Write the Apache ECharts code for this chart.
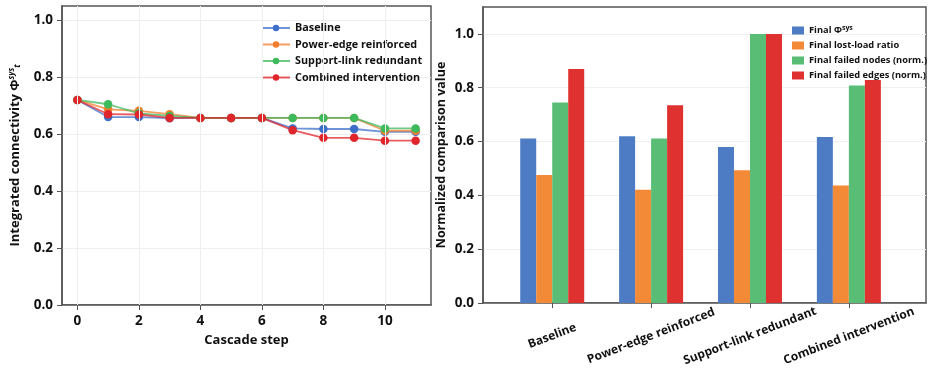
<!DOCTYPE html>
<html>
<head>
<meta charset="utf-8">
<script src="https://cdn.jsdelivr.net/npm/echarts@6/dist/echarts.min.js"></script>
<style>
  html, body { margin: 0; padding: 0; background: #fff; }
  #chart { width: 929px; height: 368px; }
</style>
</head>
<body>
<div id="chart"></div>
<script>
// cascade curves (left panel)
const steps = [0, 1, 2, 3, 4, 5, 6, 7, 8, 9, 10, 11]
const baseline = [0.720, 0.660, 0.660, 0.656, 0.657, 0.657, 0.657, 0.620, 0.618, 0.618, 0.608, 0.608]
const powerEdge = [0.720, 0.687, 0.682, 0.670, 0.657, 0.657, 0.657, 0.657, 0.657, 0.657, 0.612, 0.612]
const supportLink = [0.720, 0.705, 0.673, 0.664, 0.657, 0.657, 0.657, 0.657, 0.657, 0.657, 0.620, 0.620]
const combined = [0.720, 0.670, 0.669, 0.657, 0.657, 0.657, 0.657, 0.614, 0.587, 0.587, 0.577, 0.577]
const stepTicks = [0, 2, 4, 6, 8, 10]
const yTicks = [0, 0.2, 0.4, 0.6, 0.8, 1.0]

// final comparison (right panel)
const scenarios = ['Baseline', 'Power-edge reinforced', 'Support-link redundant', 'Combined intervention']
const finalPhi = [0.611, 0.620, 0.580, 0.617]
const finalLostLoad = [0.476, 0.421, 0.493, 0.437]
const finalFailedNodes = [0.745, 0.611, 1.0, 0.808]
const finalFailedEdges = [0.870, 0.735, 1.0, 0.829]

const lineNames = ['Baseline', 'Power-edge reinforced', 'Support-link redundant', 'Combined intervention']
const lineColors = ['#3d6fc9', '#f07e2c', '#3cba5c', '#e0262b']
const barNames = ['Final Φsys', 'Final lost-load ratio', 'Final failed nodes (norm.)', 'Final failed edges (norm.)']
const barColors = ['#4e7cc4', '#f38a37', '#59bd76', '#e03131']

const font = 'Open Sans'
const frame = '#555'

let myChart = echarts.init(document.getElementById('chart'))

function lineSeries(name, values, color) {
  return {
    name: name,
    type: 'line',
    xAxisIndex: 0,
    yAxisIndex: 0,
    data: steps.map((s, i) => [s, values[i]]),
    symbol: 'circle',
    symbolSize: 8.5,
    itemStyle: { color: color },
    lineStyle: { color: color, width: 1.8, opacity: 0.75 },
    emphasis: { disabled: true }
  }
}

function barSeries(name, values, color) {
  return {
    name: name,
    type: 'bar',
    xAxisIndex: 1,
    yAxisIndex: 1,
    data: values.map((v, i) => [i, v]),
    barWidth: 16,
    barGap: '0%',
    itemStyle: { color: color },
    emphasis: { disabled: true }
  }
}

const series = [
  lineSeries(lineNames[0], baseline, lineColors[0]),
  lineSeries(lineNames[1], powerEdge, lineColors[1]),
  lineSeries(lineNames[2], supportLink, lineColors[2]),
  lineSeries(lineNames[3], combined, lineColors[3]),
  barSeries(barNames[0], finalPhi, barColors[0]),
  barSeries(barNames[1], finalLostLoad, barColors[1]),
  barSeries(barNames[2], finalFailedNodes, barColors[2]),
  barSeries(barNames[3], finalFailedEdges, barColors[3])
]
// faint vertical grid lines on the left panel
series[0].markLine = {
  silent: true,
  symbol: 'none',
  label: { show: false },
  lineStyle: { color: '#eeeeee', type: 'solid', width: 1 },
  data: stepTicks.map(t => ({ xAxis: t }))
}

const tickLabel = { fontFamily: font, fontWeight: 'bold', fontSize: 13.5, color: '#111' }

myChart.setOption({
  animation: false,
  textStyle: { fontFamily: font },
  grid: [
    { left: 62, right: 498, top: 6, bottom: 63, show: true, borderColor: frame, borderWidth: 1.5 },
    { left: 483, right: 3, top: 7, bottom: 64, show: true, borderColor: frame, borderWidth: 1.5 }
  ],
  legend: [
    {
      data: lineNames,
      left: 256,
      top: 16,
      orient: 'vertical',
      itemWidth: 28,
      itemHeight: 8,
      itemGap: 2.5,
      textStyle: { fontFamily: font, fontWeight: 'bold', fontSize: 10.8, color: '#111', lineHeight: 14 }
    },
    {
      data: barNames,
      left: 787,
      top: 19,
      orient: 'vertical',
      icon: 'rect',
      itemWidth: 12,
      itemHeight: 8,
      itemGap: 2,
      formatter: n => n === barNames[0] ? '{b|Final Φ}{s|sys}' : '{b|' + n + '}',
      textStyle: {
        color: '#111',
        lineHeight: 13,
        rich: {
          b: { fontFamily: font, fontWeight: 'bold', fontSize: 9.3, color: '#111' },
          s: { fontFamily: font, fontWeight: 'bold', fontSize: 7, color: '#111', verticalAlign: 'top', padding: [0, 0, 5, 0] }
        }
      }
    }
  ],
  xAxis: [
    {
      gridIndex: 0,
      type: 'value',
      min: -0.5,
      max: 11.5,
      name: 'Cascade step',
      nameLocation: 'middle',
      nameGap: 29,
      nameTextStyle: { fontFamily: font, fontWeight: 'bold', fontSize: 13, color: '#111' },
      axisLine: { show: true, onZero: false, lineStyle: { color: frame, width: 1.5 } },
      axisTick: { show: true, length: 5, customValues: stepTicks, lineStyle: { color: frame } },
      axisLabel: Object.assign({ customValues: stepTicks, margin: 9 }, tickLabel),
      splitLine: { show: false }
    },
    {
      gridIndex: 1,
      type: 'value',
      min: -0.7,
      max: 3.78,
      axisLine: { show: true, onZero: false, lineStyle: { color: frame, width: 1.5 } },
      axisTick: { show: true, length: 5, customValues: [0, 1, 2, 3], lineStyle: { color: frame } },
      axisLabel: {
        customValues: [0, 1, 2, 3],
        formatter: v => scenarios[Math.round(v)],
        rotate: 21,
        align: 'center',
        verticalAlign: 'middle',
        margin: 33,
        fontFamily: font,
        fontWeight: 'bold',
        fontSize: 12,
        color: '#111'
      },
      splitLine: { show: false }
    }
  ],
  yAxis: [
    {
      gridIndex: 0,
      type: 'value',
      min: 0,
      max: 1.05,
      name: '{t|Integrated connectivity Φ}{s|sys}{b|t}',
      nameLocation: 'middle',
      nameGap: 40,
      nameTextStyle: {
        rich: {
          t: { fontFamily: font, fontWeight: 'bold', fontSize: 13, color: '#111' },
          s: { fontFamily: font, fontWeight: 'bold', fontStyle: 'italic', fontSize: 8, color: '#111', verticalAlign: 'top', padding: [0, 0, 6, 0] },
          b: { fontFamily: font, fontWeight: 'bold', fontStyle: 'italic', fontSize: 8, color: '#111', verticalAlign: 'bottom' }
        }
      },
      axisLine: { show: true, onZero: false, lineStyle: { color: frame, width: 1.5 } },
      axisTick: { show: true, length: 5, customValues: yTicks, lineStyle: { color: frame } },
      axisLabel: Object.assign({ customValues: yTicks, margin: 9, formatter: v => v.toFixed(1) }, tickLabel),
      splitLine: { show: true, lineStyle: { color: '#eeeeee', width: 1 } }
    },
    {
      gridIndex: 1,
      type: 'value',
      min: 0,
      max: 1.1,
      name: 'Normalized comparison value',
      nameLocation: 'middle',
      nameGap: 35,
      nameTextStyle: { fontFamily: font, fontWeight: 'bold', fontSize: 12.5, color: '#111' },
      axisLine: { show: true, onZero: false, lineStyle: { color: frame, width: 1.5 } },
      axisTick: { show: true, length: 5, customValues: yTicks, lineStyle: { color: frame } },
      axisLabel: Object.assign({ customValues: yTicks, margin: 9, formatter: v => v.toFixed(1) }, tickLabel),
      splitLine: { show: true, lineStyle: { color: '#f0f0f0', width: 1 } }
    }
  ],
  series: series
})
</script>
</body>
</html>
